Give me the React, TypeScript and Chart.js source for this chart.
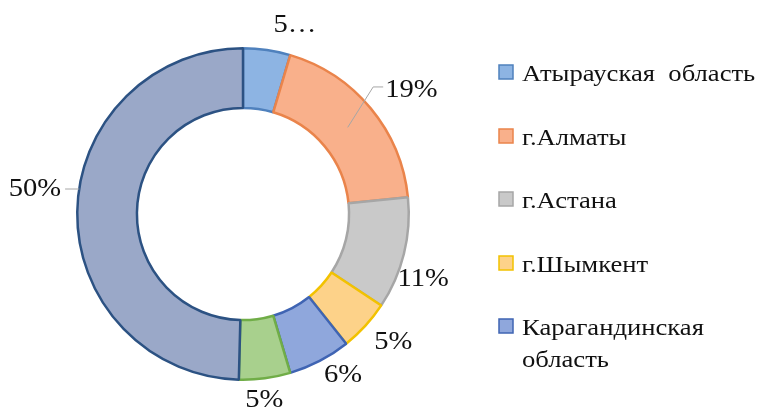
import React, { useEffect, useRef } from "react";
import { Chart, registerables } from "chart.js";

Chart.register(...registerables);

// ---- data ----
const categories = [
  "Атырауская  область",
  "г.Алматы",
  "г.Астана",
  "г.Шымкент",
  "Карагандинская область",
  "Другие области",
  "Прочие регионы",
];
const shares = [4.6, 18.8, 10.9, 5.0, 6.1, 5.0, 49.6];
const legendCount = 5;

// ---- styles ----
const fillColors = ["#8db4e3", "#f9b08b", "#c9c9c9", "#fdd289", "#8fa7dc", "#a8d08d", "#9aa8c8"];
const borderColors = ["#4f81bd", "#ea844b", "#a6a6a6", "#f2c200", "#3f64b3", "#70ad47", "#2c5283"];
const labelShiftDeg = [7, 3, 5.7, -2.3, -4.5, 1, 6.4];
const labelGap = [31, 44, 25.5, 31, 23, 21, 44];
const labelTruncate = [true, false, false, false, false, false, false];
const labelLeader = ["none", "elbow", "none", "none", "none", "none", "straight"];

const FONT = '"Liberation Serif", "Times New Roman", serif';
const LABEL_SIZE = 26;
const LABEL_SX = 1.1;
const LEGEND_SIZE = 24;
const LEGEND_SX = 1.11;
const TEXT_COLOR = "#111111";

function stretchedText(ctx: CanvasRenderingContext2D, text: string, x: number, y: number, sx: number, align: CanvasTextAlign) {
  ctx.save();
  ctx.translate(x, y);
  ctx.scale(sx, 1);
  ctx.textAlign = align;
  ctx.fillText(text, 0, 0);
  ctx.restore();
}

const labelsPlugin = {
  id: "outsideLabels",
  afterDraw(chart: any) {
    const ctx: CanvasRenderingContext2D = chart.ctx;
    const meta = chart.getDatasetMeta(0);
    const total = shares.reduce((a, b) => a + b, 0);
    ctx.save();
    ctx.font = `${LABEL_SIZE}px ${FONT}`;
    ctx.fillStyle = TEXT_COLOR;
    ctx.textBaseline = "middle";
    meta.data.forEach((arc: any, i: number) => {
      const p = arc.getProps(["x", "y", "startAngle", "endAngle", "outerRadius", "innerRadius"], true);
      const mid = (p.startAngle + p.endAngle) / 2;
      const a = mid + (labelShiftDeg[i] * Math.PI) / 180;
      const r = p.outerRadius + labelGap[i];
      const lx = p.x + r * Math.cos(a);
      const ly = p.y + r * Math.sin(a);
      let txt = Math.round((shares[i] / total) * 100) + "%";
      if (labelTruncate[i]) txt = txt.charAt(0) + "…";
      const w = ctx.measureText(txt).width * LABEL_SX;
      ctx.fillStyle = TEXT_COLOR;
      stretchedText(ctx, txt, lx, ly + 1, LABEL_SX, "center");
      ctx.strokeStyle = "#a6a6a6";
      ctx.lineWidth = 1;
      if (labelLeader[i] === "elbow") {
        const rm = (p.outerRadius + p.innerRadius) / 2;
        const sx0 = p.x + rm * Math.cos(mid);
        const sy0 = p.y + rm * Math.sin(mid);
        const left = lx - w / 2;
        ctx.beginPath();
        ctx.moveTo(sx0, sy0);
        ctx.lineTo(left - 12, ly - 2);
        ctx.lineTo(left - 2, ly - 2);
        ctx.stroke();
      } else if (labelLeader[i] === "straight") {
        const right = lx + w / 2;
        const dy = ly - p.y;
        const ex = p.x - Math.sqrt(Math.max(p.outerRadius * p.outerRadius - dy * dy, 0));
        ctx.beginPath();
        ctx.moveTo(right + 4, ly + 1);
        ctx.lineTo(ex, ly + 1);
        ctx.stroke();
      }
    });

    // legend
    ctx.font = `${LEGEND_SIZE}px ${FONT}`;
    ctx.textBaseline = "alphabetic";
    const lgX = 499;
    const lgY0 = 81;
    const rowGap = 63.5;
    const lineGap = 31.5;
    const maxW = 250;
    for (let i = 0; i < legendCount; i++) {
      const words = categories[i].split(" ");
      const lines: string[] = [];
      const full = categories[i];
      if (ctx.measureText(full).width * LEGEND_SX <= maxW) {
        lines.push(full);
      } else {
        let cur = "";
        words.forEach((wd) => {
          const test = cur ? cur + " " + wd : wd;
          if (cur && ctx.measureText(test).width * LEGEND_SX > maxW) {
            lines.push(cur);
            cur = wd;
          } else cur = test;
        });
        if (cur) lines.push(cur);
      }
      const by = Math.round(lgY0 + i * rowGap);
      ctx.fillStyle = fillColors[i];
      ctx.strokeStyle = borderColors[i];
      ctx.lineWidth = 1.5;
      ctx.fillRect(lgX, by - 16, 14, 14);
      ctx.strokeRect(lgX, by - 16, 14, 14);
      ctx.fillStyle = TEXT_COLOR;
      lines.forEach((ln, k) => stretchedText(ctx, ln, lgX + 23, by + k * lineGap, LEGEND_SX, "left"));
    }
    ctx.restore();
  },
};

export default function App() {
  const ref = useRef<HTMLCanvasElement | null>(null);
  useEffect(() => {
    if (!ref.current) return;
    const chart = new Chart(ref.current, {
      type: "doughnut",
      data: {
        labels: categories,
        datasets: [
          {
            data: shares,
            backgroundColor: fillColors,
            borderColor: borderColors,
            borderWidth: 2.5,
          },
        ],
      },
      options: {
        responsive: false,
        animation: false,
        cutout: "64%",
        layout: { padding: { left: 76, top: 47, right: 354, bottom: 29 } },
        plugins: {
          legend: { display: false },
          tooltip: { enabled: false },
        },
      },
      plugins: [labelsPlugin],
    } as any);
    return () => chart.destroy();
  }, []);
  return (
    <div style={{ position: "absolute", left: 0, top: 0, width: 764, height: 410, background: "#fff", overflow: "hidden" }}>
      <canvas ref={ref} width={764} height={410} style={{ display: "block" }} />
    </div>
  );
}
